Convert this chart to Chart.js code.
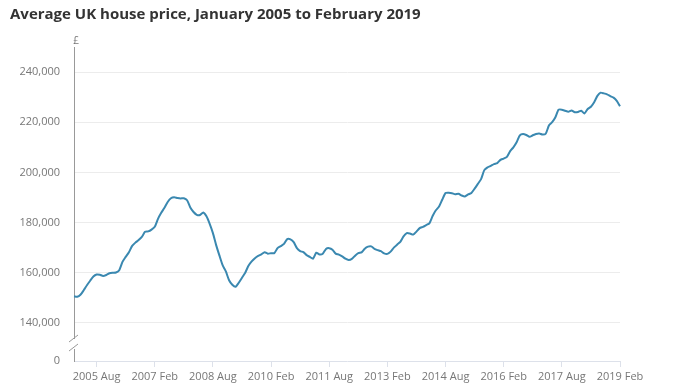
<!DOCTYPE html>
<html>
<head>
<meta charset="utf-8">
<script src="https://cdn.jsdelivr.net/npm/chart.js@4.4.1/dist/chart.umd.min.js"></script>
<style>
  html, body { margin: 0; padding: 0; background: #fff; }
  #wrap { width: 684px; height: 390px; }
</style>
</head>
<body>
<div id="wrap"><canvas id="chart"></canvas></div>
<script>
/* ---------- Data ---------- */
const titleText = "Average UK house price, January 2005 to February 2019";
const years = [2005, 2006, 2007, 2008, 2009, 2010, 2011, 2012, 2013, 2014, 2015, 2016, 2017, 2018, 2019];
const monthNames = ["Jan", "Feb", "Mar", "Apr", "May", "Jun", "Jul", "Aug", "Sep", "Oct", "Nov", "Dec"];
// average price (£), one value per month, Jan 2005 .. Feb 2019
const prices = [
  150600, 150400, 151200, 153000, 155000, 156800, 158500, 159300, 159200, 158700, 159100, 159800, // 2005
  160000, 160100, 161000, 164300, 166300, 168200, 170700, 172000, 173000, 174300, 176300, 176500, // 2006
  177200, 178300, 181500, 183900, 185900, 188200, 189700, 190100, 189800, 189600, 189700, 188900, // 2007
  186000, 184200, 183100, 183000, 184000, 182500, 179500, 175800, 171000, 166900, 163000, 160500, // 2008
  157000, 155200, 154400, 156000, 158000, 160000, 162800, 164500, 165800, 166700, 167300, 168200, // 2009
  167600, 167800, 167800, 169800, 170600, 171500, 173400, 173300, 172200, 169800, 168600, 168200, // 2010
  167000, 166300, 165600, 168000, 167300, 167600, 169500, 169800, 169200, 167600, 167200, 166500, // 2011
  165600, 165100, 165500, 166800, 167800, 168100, 169600, 170400, 170500, 169500, 169000, 168600, // 2012
  167700, 167500, 168400, 170000, 171200, 172300, 174500, 175800, 175600, 175200, 176400, 177800, // 2013
  178300, 179000, 179700, 182600, 184900, 186400, 189200, 191800, 191900, 191700, 191300, 191500, // 2014
  190800, 190400, 191200, 191800, 193500, 195400, 197300, 200900, 202000, 202600, 203300, 203700, // 2015
  205000, 205500, 206200, 208500, 210000, 212000, 214800, 215300, 214900, 214200, 214800, 215300, // 2016
  215500, 215100, 215400, 218700, 220000, 222000, 225000, 225000, 224600, 224200, 224700, 224000, // 2017
  224100, 224600, 223500, 225300, 226200, 228000, 230500, 231800, 231500, 231100, 230400, 229800, // 2018
  228500, 226400                                                                                  // 2019
];
const yTicks = [140000, 160000, 180000, 200000, 220000, 240000];
const yMin = 124800;   // bottom of the broken axis, shown as 0
const yMax = 250000;

const labels = [];
years.forEach(y => monthNames.forEach(m => labels.push(y + " " + m)));
labels.length = prices.length;

/* ---------- Extras: £ unit and axis break ---------- */
const axisExtras = {
  id: "axisExtras",
  afterDraw(chart) {
    const ctx = chart.ctx;
    const x = chart.scales.y.right;
    const top = chart.chartArea.top;
    ctx.save();
    ctx.fillStyle = "#777";
    ctx.font = "10px 'Open Sans'";
    ctx.textAlign = "center";
    ctx.textBaseline = "bottom";
    ctx.fillText("£", x + 2, top - 1);
    // break in the axis
    ctx.fillStyle = "#fff";
    ctx.fillRect(x - 3, 339, 6, 10);
    ctx.strokeStyle = "#999";
    ctx.lineWidth = 1;
    ctx.beginPath();
    ctx.moveTo(x - 5, 342); ctx.lineTo(x + 4, 335);
    ctx.moveTo(x - 5, 351); ctx.lineTo(x + 4, 344);
    ctx.stroke();
    ctx.restore();
  }
};

Chart.defaults.font.family = "'Open Sans', sans-serif";

new Chart(document.getElementById("chart"), {
  type: "line",
  plugins: [axisExtras],
  data: {
    labels: labels,
    datasets: [{
      data: prices,
      borderColor: "#3a88b0",
      borderWidth: 2,
      pointRadius: 0,
      tension: 0.2,
      fill: false
    }]
  },
  options: {
    responsive: true,
    maintainAspectRatio: false,
    animation: false,
    layout: { padding: { left: 10, right: 64, top: 0, bottom: 0 } },
    plugins: {
      legend: { display: false },
      tooltip: { enabled: false },
      title: {
        display: true,
        text: titleText,
        align: "start",
        color: "#333",
        font: { size: 15, weight: "bold" },
        padding: { top: 6, bottom: 23 }
      }
    },
    scales: {
      x: {
        offset: false,
        afterBuildTicks: scale => {
          scale.ticks = scale.ticks.filter(t => (t.value - 7) % 18 === 0);
        },
        afterFit: scale => { scale.height = 29; },
        grid: { drawOnChartArea: false, drawTicks: true, tickLength: 6, color: "#dde1ea" },
        border: { display: true, color: "#dde1ea" },
        ticks: {
          autoSkip: false,
          maxRotation: 0,
          padding: 3,
          color: "#777",
          font: { size: 11 },
          callback: function (v) { return this.getLabelForValue(v).replace(/^(\d{4}) (\w+)$/, "$1 $2"); }
        }
      },
      y: {
        min: yMin,
        max: yMax,
        afterBuildTicks: scale => {
          scale.ticks = [yMin].concat(yTicks).map(v => ({ value: v }));
        },
        afterFit: scale => { scale.width = 64; },
        grid: {
          drawTicks: false,
          color: c => (c.tick && c.tick.value === yMin) ? "rgba(0,0,0,0)" : "#ececec"
        },
        border: { display: true, color: "#999" },
        ticks: {
          padding: 14,
          color: "#777",
          font: { size: 11 },
          callback: v => v === yMin ? "0" : v.toLocaleString("en-GB")
        }
      }
    }
  }
});
</script>
</body>
</html>
